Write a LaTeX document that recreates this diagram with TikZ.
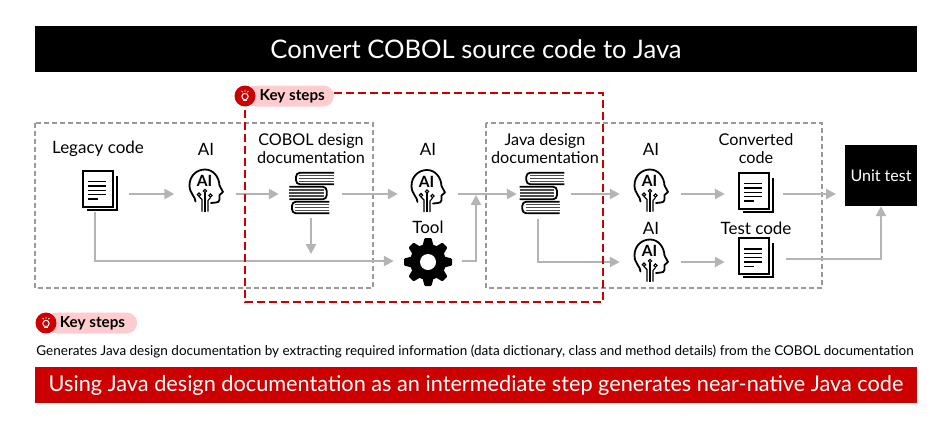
\documentclass[tikz,border=0pt]{standalone}
\usepackage{fontspec}
\setmainfont{Lato}
\usepackage{tikz}
\usetikzlibrary{calc,arrows.meta}
\definecolor{flowgray}{HTML}{B4B4B4}
\definecolor{boxgray}{HTML}{9A9A9A}
\definecolor{keyred}{HTML}{CC0000}
\definecolor{keypink}{HTML}{FFCCD0}
\def\drawflow{\draw[color=flowgray, line width=2.4pt, -{Triangle[length=10pt,width=10pt]}]}
\def\drawgroup{\draw[color=boxgray, line width=1.2pt, dash pattern=on 5pt off 3pt]}
\def\drawkey{\draw[color=keyred, line width=2pt, dash pattern=on 8pt off 4pt]}
\def\labelnode{\node[font=\fontsize{17}{18}\selectfont,align=center,inner sep=0pt]}
\def\twolinenode{\node[font=\fontsize{16.2}{18}\selectfont,align=center,inner sep=0pt]}
\tikzset{
  banner/.style={minimum height=#1,inner sep=0pt,text=white,minimum width=882pt},
  keypill/.style={fill=keypink,rounded corners=10.5pt,minimum height=21pt,inner xsep=0pt,inner ysep=0pt,anchor=west,font=\fontsize{15.2}{16}\bfseries},
  keydot/.style={circle,fill=keyred,minimum size=21pt,inner sep=0pt},
  slot/.style={inner sep=0pt,minimum width=#1,minimum height=36pt},
  doc/.pic={
    \draw[line width=1.8pt,fill=white] (-17,-19) rectangle (13,17);
    \draw[line width=1.8pt] (17,-14) -- (17,20) -- (-13,20);
    \foreach \y in {-8.3,-4,0.3,4.7} \draw[line width=1.3pt] (-12,\y) -- (6,\y);
    \draw[line width=1.3pt] (-12,9) -- (-2,9);
  },
  head/.pic={
    \draw[line width=1.8pt,line cap=round,line join=round] (-10.5,11) .. controls (-10.5,6) and (-16.5,3) .. (-16.5,-5)
      .. controls (-16.5,-15) and (-9,-21) .. (-1,-21) .. controls (7,-21) and (13,-14) .. (13.5,-5)
      -- (17,1.5) -- (13.5,4.5) -- (13.5,9) .. controls (13.5,11) and (12,12) .. (10,12) -- (5,12.5);
    \node[font=\fontsize{15.5}{15}\bfseries,inner sep=0pt] at (-1.5,-9.5) {AI};
    \draw[line width=1.1pt] (-1,21) -- (-1,2);
    \draw[line width=1.1pt] (-4,21) -- (-4,9) -- (-7,6);
    \draw[line width=1.1pt] (2,21) -- (2,10) -- (4.5,7);
    \foreach \x/\y in {-7/4.2,-1/0.5,4.5/5} \draw[line width=1.1pt,fill=white] (\x,\y) circle (1.7);
  },
  books/.pic={
    \draw[line width=1.8pt,rounded corners=4pt] (22.3,-20.3) -- (-15.7,-20.3) -- (-15.7,-8.7) -- (22.3,-8.7);
    \draw[line width=1.8pt,rounded corners=4pt] (-22.3,-6.3) -- (15,-6.3) -- (15,6.3) -- (-22.3,6.3);
    \draw[line width=1.8pt,rounded corners=4pt] (17.7,8.7) -- (-19.7,8.7) -- (-19.7,20.3) -- (17.7,20.3);
    \foreach \y in {-17.4,-14.5,-11.6} \draw[line width=1.1pt,black!70] (-12.5,\y) -- (22.3,\y);
    \foreach \y in {-3,0,3} \draw[line width=1.1pt,black!70] (-22.3,\y) -- (12,\y);
    \foreach \y in {11.6,14.5,17.4} \draw[line width=1.1pt,black!70] (-16.5,\y) -- (17.7,\y);
  },
  gear/.pic={
    \foreach \a in {0,45,...,315}
      \fill[rotate=\a,rounded corners=1pt] (-5.5,-16) -- (-3.5,-24) -- (3.5,-24) -- (5.5,-16) -- cycle;
    \fill (0,0) circle (18);
    \fill[white] (0,0) circle (8);
  },
  bulb/.pic={
    \draw[white,line width=1pt] (0,0.5) circle (3.2);
    \draw[white,line width=1pt] (-2,4.8) -- (2,4.8);
    \draw[white,line width=0.9pt] (-3.4,-5) -- (-2.4,-3.8) (3.4,-5) -- (2.4,-3.8) (0,-6) -- (0,-4.4);
  },
}

\begin{document}
\begin{tikzpicture}[x=1pt,y=-1pt]
\useasboundingbox (0,0) rectangle (950,429);

% -------- title and footer ---------
\node[banner=46pt,fill=black,font=\fontsize{25.6}{28}\selectfont] (title) at (476,49) {Convert COBOL source code to Java};
\node[banner=36pt,fill=keyred,font=\fontsize{21.7}{26}\selectfont] (result) at (476,385) {Using Java design documentation as an intermediate step generates near-native Java code};
\node[font=\fontsize{13.5}{15}\selectfont,inner sep=0pt] (detail) at (475,351) {Generates Java design documentation by extracting required information (data dictionary, class and method details) from the COBOL documentation};

% -------- groups ---------
\drawgroup (35,123) rectangle (373,288);
\drawgroup (486,123) rectangle (822,288);

% -------- labels ---------
\labelnode (legacy) at (98,149) {Legacy code};
\labelnode (aia) at (206,149) {AI};
\twolinenode (cobol) at (311,149) {COBOL design\\documentation};
\labelnode (aib) at (428,149) {AI};
\labelnode (tool) at (428,227.5) {Tool};
\twolinenode (java) at (545,149) {Java design\\documentation};
\labelnode (aic) at (651,149) {AI};
\labelnode (aid) at (651,228) {AI};
\twolinenode (conv) at (756,148.5) {Converted\\code};
\labelnode (testc) at (756,228) {Test code};
\node[fill=black,text=white,minimum width=72pt,minimum height=61pt,inner sep=0pt,font=\fontsize{16}{18}\selectfont] (unit) at (881,175.5) {Unit test};

% -------- icons ---------
\pic at (100,190) {doc};
\pic at (206,190.5) {head};
\pic at (311.7,193) {books};
\pic at (428,191) {head};
\pic at (428,262) {gear};
\pic at (542,193) {books};
\pic at (651,190.5) {head};
\pic at (651,260.5) {head};
\pic at (756.3,192) {doc};
\pic at (756.3,257.3) {doc};

% arrows leave and reach these slots, one for each icon
\node[slot=58pt] (doca) at (100,194) {};
\node[slot=61pt] (heada) at (205,194) {};
\node[slot=63pt] (booka) at (310.5,194) {};
\node[slot=60pt] (headb) at (428,194) {};
\node[slot=54pt,minimum height=50pt] (bookb) at (544,194) {};
\node[slot=61pt] (headc) at (650.5,194) {};
\node[slot=58pt] (docb) at (754,194) {};
\node[slot=68pt] (cog) at (428,261) {};
\node[slot=61pt] (headd) at (650.5,262) {};
\node[slot=61pt] (docc) at (755.5,259) {};
\coordinate (docdown) at (95,212);
\coordinate (bookdown) at (311,254);
\coordinate (meet) at (476,195);
\coordinate (past) at (836,194);

% -------- connectors ---------
\drawflow (doca) -- (heada);
\drawflow (heada) -- (booka);
\drawflow (booka) -- (headb);
\drawflow (headb) -- (bookb);
\drawflow (bookb) -- (headc);
\drawflow (headc) -- (docb);
\drawflow (docb) -- (past);
\drawflow (311,218) -- (bookdown);
\drawflow (docdown) |- (cog);
\drawflow (cog) -| (meet);
\drawflow ([xshift=-6pt]bookb.south) |- (headd.west);
\drawflow (headd) -- (headd -| docc.west);
\drawflow (docc) -| (unit);

% -------- key steps ---------
\node[keypill,minimum width=88pt] (keya) at (245,96) {\hspace*{14.5pt}Key steps\hspace*{9pt}};
\node[keypill,minimum width=91pt] (keyb) at (46,323) {\hspace*{13.5pt}Key steps\hspace*{12pt}};
\coordinate (corner) at (603,302);
\drawkey (keya.east |- 0,93) -| (corner) -| (keya.south -| 245,0);
\node[keydot] (dota) at (245,96) {};
\node[keydot] (dotb) at (46,323) {};
\pic at (dota) {bulb};
\pic at (dotb) {bulb};
\end{tikzpicture}
\end{document}
